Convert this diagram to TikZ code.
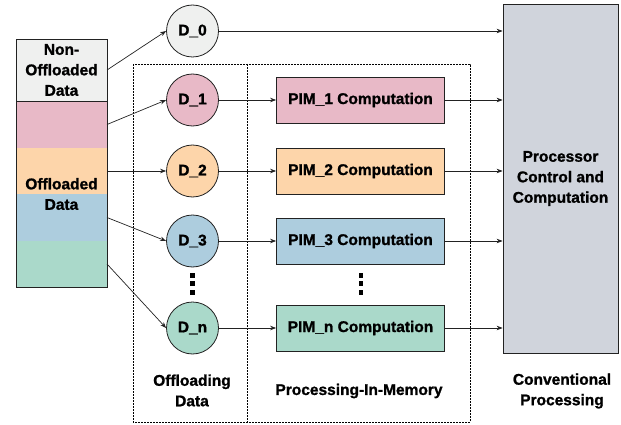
\documentclass[tikz,border=0pt]{standalone}
\usepackage{fontspec}
\setmainfont{Liberation Sans}
\newfontfamily\heavyfont{Liberation Sans Bold}[FakeBold=1.2]
\usetikzlibrary{arrows.meta,calc}
\definecolor{cgray}{HTML}{EFF0EF}
\definecolor{cpink}{HTML}{E8B9C7}
\definecolor{corange}{HTML}{FDD5AA}
\definecolor{cblue}{HTML}{ADCDDE}
\definecolor{cgreen}{HTML}{AAD9CA}
\definecolor{cproc}{HTML}{D0D4DC}
\definecolor{cline}{HTML}{222222}
\tikzset{
  lbl/.style={font=\fontsize{15.5}{20.5}\selectfont\heavyfont, align=center},
  slice/.style={minimum width=91pt, inner sep=0pt, outer sep=0pt},
  datum/.style={circle, draw=cline, line width=0.8pt, minimum size=52pt, inner sep=0pt, lbl},
  pim/.style={draw=cline, line width=0.8pt, minimum width=168pt, minimum height=46pt, inner sep=0pt, lbl},
  link/.style={-{Stealth[length=6pt,width=4.5pt]}, line width=0.7pt, draw=cline},
  region/.style={line width=0.7pt, dash pattern=on 1.6pt off 1.4pt},
  dotbox/.style={fill=black, minimum width=4.5pt, minimum height=5pt, inner sep=0pt}
}
\begin{document}
\begin{tikzpicture}[x=1pt,y=-1pt]
\useasboundingbox (0,0) rectangle (621,425);

% data stack on the left
\node[slice, fill=cpink,   minimum height=47pt] (pink)   at (61.5,124.5) {};
\node[slice, fill=corange, minimum height=46pt] (orange) at (61.5,171) {};
\node[slice, fill=cblue,   minimum height=47pt] (blue)   at (61.5,217.5) {};
\node[slice, fill=cgreen,  minimum height=46pt] (green)  at (61.5,264) {};
\draw[cline, line width=0.8pt] (pink.north west) rectangle (green.south east);
\node[slice, fill=cgray, draw=cline, line width=0.8pt, minimum height=62pt, lbl] (nonoff) at (61.5,70) {Non-\\Offloaded\\Data};
\node[lbl] (offl) at (61.5,194) {Offloaded\\Data};

% dotted regions
\draw[region] (133,64) rectangle (470,422);
\draw[region] (247,64) -- (247,422);

% processor
\node[draw=cline, fill=cproc, line width=0.8pt, minimum width=115pt, minimum height=349pt, inner sep=0pt, lbl] (proc) at (560.5,178.5) {Processor\\Control and\\Computation};

% data partitions
\node[datum, fill=cgray]   (d0) at (192.5,31)  {D\_0};
\node[datum, fill=cpink]   (d1) at (192.5,100) {D\_1};
\node[datum, fill=corange] (d2) at (192.5,171) {D\_2};
\node[datum, fill=cblue]   (d3) at (192.5,241) {D\_3};
\node[datum, fill=cgreen]  (dn) at (192.5,328) {D\_n};

% PIM units
\node[pim, fill=cpink]   (p1) at (360.5,100) {PIM\_1 Computation};
\node[pim, fill=corange] (p2) at (360.5,171) {PIM\_2 Computation};
\node[pim, fill=cblue]   (p3) at (360.5,241) {PIM\_3 Computation};
\node[pim, fill=cgreen]  (pn) at (360.5,328) {PIM\_n Computation};

% vertical ellipses
\foreach \yy in {275,283.5,292} {
  \node[dotbox] at (192.5,\yy) {};
  \node[dotbox] at (361,\yy) {};
}

% connectors
\draw[link] (nonoff.east) -- (d0.west);
\draw[link] (pink.east)   -- (d1.west);
\draw[link] (orange.east) -- (d2.west);
\draw[link] (blue.east)   -- (d3.west);
\draw[link] (green.east)  -- (dn.west);

\draw[link] (d0.east) -- (d0.east -| proc.west);
\foreach \d/\p in {d1/p1,d2/p2,d3/p3,dn/pn} {
  \draw[link] (\d.east) -- (\p.west);
  \draw[link] (\p.east) -- (\p.east -| proc.west);
}

% captions
\node[lbl] (capo) at (192,390.5) {Offloading\\Data};
\node[lbl] (capp) at (359,391) {Processing-In-Memory};
\node[lbl] (capc) at (562,391) {Conventional\\Processing};
\end{tikzpicture}
\end{document}
